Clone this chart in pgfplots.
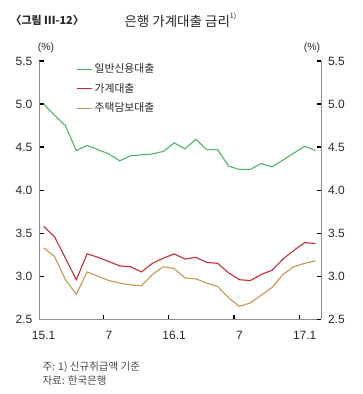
\documentclass[border=0pt]{standalone}
\usepackage{fontspec}
\setmainfont{Liberation Sans}
\newfontfamily\kr{Noto Sans CJK KR}
\usepackage{pgfplots}
\usepackage{pgfplotstable}
\pgfplotsset{compat=1.18}
\definecolor{cgreen}{RGB}{78,182,102}
\definecolor{cred}{RGB}{196,44,56}
\definecolor{ctan}{RGB}{196,152,82}
\definecolor{axgray}{RGB}{140,140,140}
\definecolor{txt}{RGB}{40,40,40}

\pgfplotstableread{
i green red tan
0 5.00 3.58 3.33
1 4.87 3.46 3.23
2 4.75 3.21 2.96
3 4.46 2.96 2.79
4 4.52 3.26 3.05
5 4.47 3.22 3.00
6 4.42 3.17 2.95
7 4.34 3.12 2.92
8 4.40 3.11 2.90
9 4.41 3.05 2.89
10 4.42 3.15 3.02
11 4.45 3.21 3.11
12 4.55 3.26 3.09
13 4.48 3.20 2.98
14 4.59 3.22 2.97
15 4.47 3.16 2.92
16 4.47 3.15 2.88
17 4.28 3.04 2.75
18 4.24 2.96 2.65
19 4.24 2.95 2.69
20 4.31 3.02 2.78
21 4.27 3.07 2.87
22 4.35 3.20 3.02
23 4.43 3.30 3.11
24 4.51 3.39 3.15
25 4.46 3.38 3.18
}\rates

\pgfplotsset{
  common/.style={
    at={(39.3pt,-319.3pt)}, anchor=south west,
    scale only axis, width=281.7pt, height=258.3pt,
    xmin=-0.4, xmax=25.5, ymin=2.5, ymax=5.5,
    ytick={2.5,3,3.5,4,4.5,5,5.5},
    yticklabel style={/pgf/number format/fixed, /pgf/number format/fixed zerofill, /pgf/number format/precision=1},
    /pgf/number format/assume math mode=true,
    ticklabel style={font=\fontsize{12}{14}\selectfont, text=txt},
    axis line style={draw=axgray, line width=0.9pt},
    tick align=inside,
    major tick length=4.5pt,
    tick style={black, line width=1.3pt},
  }
}

\begin{document}
\begin{tikzpicture}
\path[use as bounding box] (0,0) rectangle (362pt,-394pt);

\begin{axis}[common,
  axis x line*=bottom, axis y line*=left,
  xtick={5.5,11.5,17.5,23.5}, xticklabels={,,,},
  extra x ticks={0,6,12,18,24},
  extra x tick labels={15.1,7,16.1,7,17.1},
  extra x tick style={major tick length=0pt, xticklabel style={yshift=-8pt}},
  yticklabel style={xshift=-3.5pt},
  legend style={at={(axis description cs:0.132,0.997)}, anchor=north west,
    draw=none, fill=none, inner sep=0pt, row sep=5pt,
    font=\fontsize{10.8}{12}\selectfont\kr, text=txt, cells={anchor=west}},
  legend image code/.code={\draw[#1, line width=1pt] (0pt,0pt) -- (15pt,0pt);},
]
\addplot[cgreen, line width=1.1pt] table[x=i, y=green] {\rates};
\addlegendentry{일반신용대출}
\addplot[cred, line width=1.1pt] table[x=i, y=red] {\rates};
\addlegendentry{가계대출}
\addplot[ctan, line width=1.1pt] table[x=i, y=tan] {\rates};
\addlegendentry{주택담보대출}
\end{axis}

\begin{axis}[common,
  axis x line=none, axis y line*=right,
  yticklabel pos=right,
  yticklabel style={xshift=3.5pt},
]
\end{axis}

\node[anchor=west, font=\fontsize{11}{13}\selectfont\kr\bfseries, text=txt] at (7pt,-20pt) {〈그림 Ⅲ-12〉};
\node[anchor=west, font=\fontsize{13.5}{15}\selectfont\kr, text=txt] at (121pt,-20pt) {은행 가계대출 금리\raisebox{0.55em}{\fontsize{7}{8}\selectfont 1)}};
\node[font=\fontsize{10.5}{12}\selectfont, text=txt] at (46pt,-48pt) {(\%)};
\node[font=\fontsize{10.5}{12}\selectfont, text=txt] at (312pt,-48pt) {(\%)};
\node[anchor=west, font=\fontsize{10.5}{12}\selectfont\kr, text=txt!85] at (39pt,-366.7pt) {주: 1) 신규취급액 기준};
\node[anchor=west, font=\fontsize{10.5}{12}\selectfont\kr, text=txt!85] at (39pt,-381pt) {자료: 한국은행};
\end{tikzpicture}
\end{document}
